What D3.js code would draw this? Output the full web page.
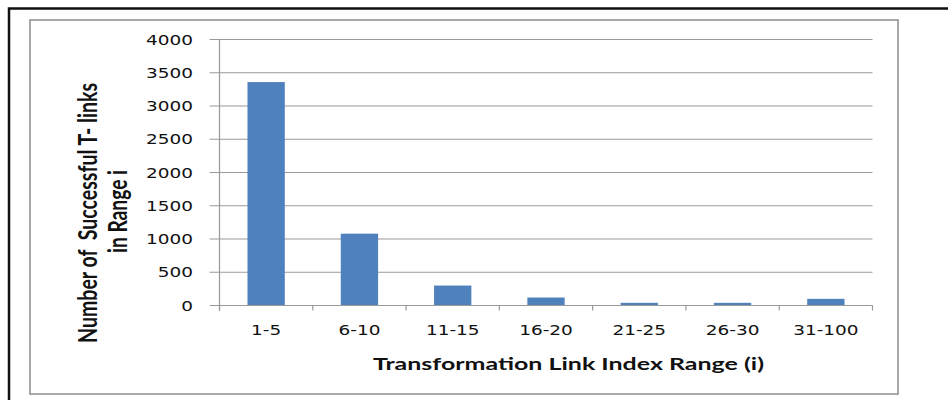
<!DOCTYPE html>
<html>
<head>
<meta charset="utf-8">
<script src="https://cdn.jsdelivr.net/npm/d3@7"></script>
<style>
body { margin: 0; background: #fff; }
svg { display: block; }
</style>
</head>
<body>
<div id="chart"></div>
<script>
var categories = ["1-5", "6-10", "11-15", "16-20", "21-25", "26-30", "31-100"];
var successCounts = [3360, 1080, 300, 120, 40, 40, 100];
var yTicks = [0, 500, 1000, 1500, 2000, 2500, 3000, 3500, 4000];
var xTitle = "Transformation Link Index Range (i)";
var yTitleLines = ["Number of  Successful T- links", "in Range i"];

var width = 948, height = 400;
var stretch = 1.32; // the picture is wider than the fonts
var plot = { left: 219.5, right: 872.5, top: 39.5, bottom: 305.5 };

var svg = d3.select("#chart").append("svg")
    .attr("width", width)
    .attr("height", height);

// frames
svg.append("path")
    .attr("d", "M9,400 V8.5 H948")
    .attr("fill", "none")
    .attr("stroke", "#111")
    .attr("stroke-width", 2.5);

svg.append("rect")
    .attr("x", 30).attr("y", 20)
    .attr("width", 868).attr("height", 374)
    .attr("fill", "none")
    .attr("stroke", "#8c8c8c")
    .attr("stroke-width", 1.5);

var x = d3.scaleBand()
    .domain(categories)
    .range([plot.left, plot.right])
    .paddingInner(0.6)
    .paddingOuter(0.3);

var xEdge = d3.scaleLinear()
    .domain([0, categories.length])
    .range([plot.left, plot.right]);

var y = d3.scaleLinear()
    .domain([0, 4000])
    .range([plot.bottom, plot.top]);

// gridlines
svg.append("g")
    .selectAll("line")
    .data(yTicks)
    .join("line")
    .attr("x1", plot.left - 10)
    .attr("x2", plot.right)
    .attr("y1", function(d) { return y(d); })
    .attr("y2", function(d) { return y(d); })
    .attr("stroke", "#9a9a9a")
    .attr("stroke-width", 1.2);

// bars
svg.append("g")
    .selectAll("rect")
    .data(successCounts)
    .join("rect")
    .attr("x", function(d, i) { return x(categories[i]); })
    .attr("width", x.bandwidth())
    .attr("y", function(d) { return y(d); })
    .attr("height", function(d) { return y(0) - y(d); })
    .attr("fill", "#4f81bd");

// y axis line
svg.append("line")
    .attr("x1", plot.left).attr("x2", plot.left)
    .attr("y1", plot.top).attr("y2", plot.bottom + 5)
    .attr("stroke", "#9a9a9a")
    .attr("stroke-width", 1.2);

// x axis line + ticks
svg.append("line")
    .attr("x1", plot.left).attr("x2", plot.right)
    .attr("y1", plot.bottom).attr("y2", plot.bottom)
    .attr("stroke", "#9a9a9a")
    .attr("stroke-width", 1.2);

svg.append("g")
    .selectAll("line")
    .data(d3.range(categories.length + 1))
    .join("line")
    .attr("x1", function(d) { return xEdge(d); })
    .attr("x2", function(d) { return xEdge(d); })
    .attr("y1", plot.bottom)
    .attr("y2", plot.bottom + 5)
    .attr("stroke", "#9a9a9a")
    .attr("stroke-width", 1.2);

// y tick labels
svg.append("g")
    .selectAll("text")
    .data(yTicks)
    .join("text")
    .attr("transform", function(d) { return "translate(193," + (y(d) + 5) + ") scale(" + stretch + ",1)"; })
    .attr("text-anchor", "end")
    .attr("font-family", "DejaVu Sans, Verdana, sans-serif")
    .attr("font-size", "14px")
    .attr("fill", "#111")
    .text(function(d) { return d; });

// x tick labels
svg.append("g")
    .selectAll("text")
    .data(categories)
    .join("text")
    .attr("transform", function(d) { return "translate(" + (x(d) + x.bandwidth() / 2) + ",335) scale(" + stretch + ",1)"; })
    .attr("text-anchor", "middle")
    .attr("font-family", "DejaVu Sans, Verdana, sans-serif")
    .attr("font-size", "14px")
    .attr("fill", "#111")
    .text(function(d) { return d; });

// axis titles
svg.append("text")
    .attr("x", 568.5)
    .attr("y", 370)
    .attr("text-anchor", "middle")
    .attr("font-family", "Lato, Carlito, sans-serif")
    .attr("font-weight", "bold")
    .attr("font-size", "17.5px")
    .attr("fill", "#111")
    .attr("textLength", 391)
    .attr("lengthAdjust", "spacingAndGlyphs")
    .text(xTitle);

var yTitleBase = [97, 127];
var yTitleLen = [260, 83];
var yTitleMid = [213, 211.5];
yTitleLines.forEach(function(line, i) {
    svg.append("text")
        .attr("transform", "translate(" + yTitleBase[i] + "," + yTitleMid[i] + ") scale(1.3,1) rotate(-90)")
        .attr("text-anchor", "middle")
        .attr("font-family", "Lato, Carlito, sans-serif")
        .attr("font-weight", "bold")
        .attr("font-size", "20.5px")
        .attr("fill", "#111")
        .style("white-space", "pre")
        .attr("textLength", yTitleLen[i])
        .attr("lengthAdjust", "spacingAndGlyphs")
        .text(line);
});
</script>
</body>
</html>
